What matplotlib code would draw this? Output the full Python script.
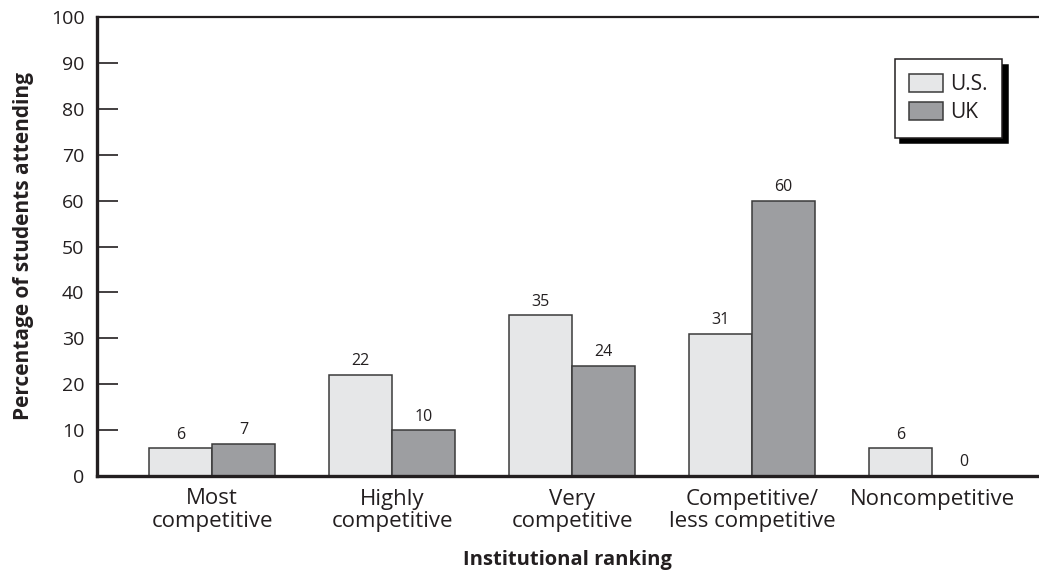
import matplotlib
matplotlib.use("Agg")
import matplotlib.pyplot as plt
import numpy as np

categories = ["Most\ncompetitive", "Highly\ncompetitive", "Very\ncompetitive",
              "Competitive/\nless competitive", "Noncompetitive"]
us_values = [6, 22, 35, 31, 6]
uk_values = [7, 10, 24, 60, 0]
series_names = ["U.S.", "UK"]
yticks = list(range(0, 101, 10))

plt.rcParams['font.family'] = ['Open Sans', 'DejaVu Sans']
dark = "#231f20"
us_color = "#e6e7e8"
uk_color = "#9d9ea1"

fig = plt.figure(figsize=(10.39, 5.77), dpi=100)
ax = fig.add_axes([97/1039, 101/577, (1038-97)/1039, (476-17)/577])

x = np.arange(len(categories))
w = 0.35
b1 = ax.bar(x - w/2, us_values, w, color=us_color, edgecolor="#3a3a3a", linewidth=1.1, label=series_names[0])
b2 = ax.bar(x + w/2, uk_values, w, color=uk_color, edgecolor="#3a3a3a", linewidth=1.1, label=series_names[1])

for bars, vals in ((b1, us_values), (b2, uk_values)):
    for r, v in zip(bars, vals):
        ax.annotate(str(v), (r.get_x() + r.get_width()/2, r.get_height()),
                    xytext=(0, 4), textcoords="offset points",
                    ha="center", va="bottom", fontsize=11.5, color=dark)

ax.set_xlim(-0.64, (1038-212)/180)
ax.set_ylim(0, 100)
ax.set_yticks(yticks)
ax.set_xticks(x)
ax.set_xticklabels(categories, fontsize=16, color=dark, linespacing=1.12)
ax.tick_params(axis='x', length=0, pad=9)
ax.tick_params(axis='y', direction='in', length=15, width=1.2, color=dark,
               labelsize=14, labelcolor=dark, pad=9)

for s in ["right"]:
    ax.spines[s].set_visible(False)
ax.spines["left"].set_linewidth(2.4)
ax.spines["bottom"].set_linewidth(2.4)
ax.spines["top"].set_linewidth(1.6)
for s in ["left", "bottom", "top"]:
    ax.spines[s].set_color(dark)

ax.set_ylabel("Percentage of students attending", fontsize=15, fontweight="bold", color=dark, labelpad=12)
ax.set_xlabel("Institutional ranking", fontsize=14.5, fontweight="bold", color=dark, labelpad=13)

leg = ax.legend(loc="upper right", bbox_to_anchor=((1002-97)/941, (476-59)/459),
                fontsize=15, frameon=True, fancybox=False,
                shadow={'color': 'black', 'alpha': 1, 'ox': 4, 'oy': -4},
                handlelength=1.6, handleheight=0.95, borderpad=0.7, labelspacing=0.35,
                handletextpad=0.35, borderaxespad=0)
leg.get_frame().set_edgecolor(dark)
leg.get_frame().set_linewidth(1.1)
for t in leg.get_texts():
    t.set_color(dark)

fig.savefig("out.png", dpi=100)
